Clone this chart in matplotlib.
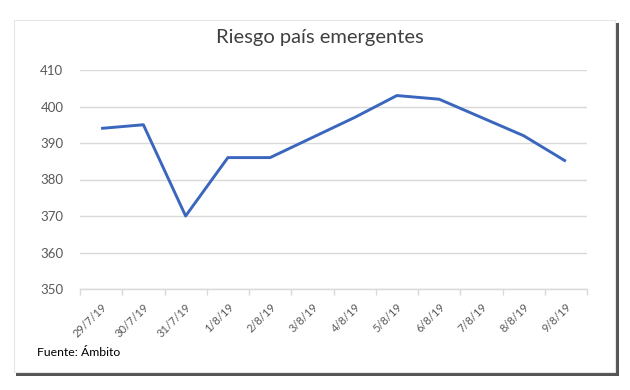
import numpy as np
import matplotlib.pyplot as plt
from matplotlib.patches import Rectangle

fechas = ["29/7/19", "30/7/19", "31/7/19", "1/8/19", "2/8/19", "3/8/19",
          "4/8/19", "5/8/19", "6/8/19", "7/8/19", "8/8/19", "9/8/19"]
riesgo = [394, 395, 370, 386, 386, 391.5, 397, 403, 402, 397, 392, 385]
y_ticks = [350, 360, 370, 380, 390, 400, 410]

plt.rcParams['font.family'] = ['Lato', 'DejaVu Sans']

W, H = 630, 390
fig = plt.figure(figsize=(W / 100, H / 100), dpi=100)
fig.patch.set_facecolor('white')

# marco con sombra
fig.patches.append(Rectangle((16 / W, 1 - 376 / H), 603 / W, 353 / H,
                             transform=fig.transFigure, facecolor='#555555',
                             edgecolor='none', zorder=0))
fig.patches.append(Rectangle((14 / W, 1 - 372 / H), 601 / W, 352 / H,
                             transform=fig.transFigure, facecolor='white',
                             edgecolor='#e6e6e6', linewidth=0.8, zorder=1))

ax = fig.add_axes([80 / W, 1 - 289 / H, 507 / W, 219 / H])
ax.set_zorder(5)
ax.set_facecolor('none')

x = np.arange(len(fechas))
ax.plot(x, riesgo, color='#3a66bd', linewidth=2.1, solid_capstyle='butt', zorder=3)

ax.set_xlim(-0.5, len(fechas) - 0.5)
ax.set_ylim(350, 410)
ax.set_yticks(y_ticks)
ax.yaxis.grid(True, color='#d9d9d9', linewidth=1.0)
ax.set_axisbelow(True)

ax.set_xticks(np.arange(-0.5, len(fechas), 1))
ax.set_xticklabels([])
ax.set_xticks(x, minor=True)
ax.set_xticklabels(fechas, minor=True, rotation=45, ha='right',
                   rotation_mode='anchor', fontsize=8, color='#595959')
ax.tick_params(axis='x', which='major', length=4, color='#d9d9d9', width=1)
ax.tick_params(axis='x', which='minor', length=0, pad=9)
ax.tick_params(axis='y', length=0, pad=12, labelsize=9.5, labelcolor='#595959')

for s in ['top', 'right', 'left']:
    ax.spines[s].set_visible(False)
ax.spines['bottom'].set_color('#d9d9d9')
ax.spines['bottom'].set_linewidth(1.0)

fig.text(320 / W, 1 - 37 / H, "Riesgo país emergentes", ha='center', va='center',
         fontsize=14.5, color='#404040', zorder=6)
fig.text(37 / W, 1 - 353 / H, "Fuente: Ámbito", ha='left', va='center',
         fontsize=8.8, color='black', zorder=6)

fig.savefig("out.png", dpi=100, facecolor='white')
